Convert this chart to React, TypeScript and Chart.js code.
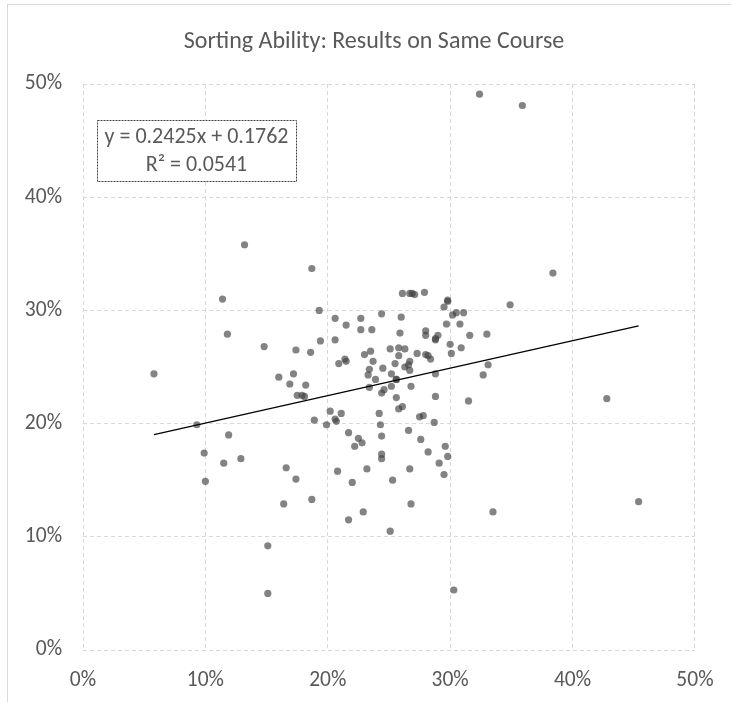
import React, { useEffect, useRef } from 'react';
import { Chart, registerables } from 'chart.js';

Chart.register(...registerables);

const TITLE = 'Sorting Ability: Results on Same Course';
const AXIS_TICKS = [0, 10, 20, 30, 40, 50];

// x = result (%), y = result on same course (%)
const POINT_X = [
  5.8, 9.3, 9.9, 10.0, 11.4, 11.8, 11.9, 11.5, 12.9, 13.2,
  14.8, 15.1, 15.1, 16.0, 16.4, 16.6, 16.9, 17.2, 17.4, 17.4,
  17.5, 17.9, 18.1, 18.2, 18.6, 18.7, 18.7, 18.9, 19.3, 19.4,
  19.9, 20.2, 20.6, 20.6, 20.6, 20.7, 20.8, 20.9, 21.1, 21.4,
  21.5, 21.5, 21.7, 21.7, 22.0, 22.2, 22.5, 22.8, 22.7, 22.7,
  22.9, 23.0, 23.2, 23.3, 23.4, 23.4, 23.5, 23.6, 23.7, 23.9,
  24.2, 24.3, 24.4, 24.4, 24.4, 24.4, 24.4, 24.5, 24.6, 25.1,
  25.1, 25.2, 25.2, 25.3, 25.5, 25.6, 25.6, 25.8, 25.8, 25.8,
  25.9, 26.0, 26.1, 26.1, 26.3, 26.3, 26.7, 26.9, 27.1, 26.7,
  26.6, 26.7, 26.6, 26.7, 26.8, 26.8, 27.3, 27.5, 27.8, 27.6,
  27.9, 28.0, 28.0, 28.0, 28.2, 28.4, 28.2, 28.7, 28.8, 28.8,
  29.0, 28.8, 28.8, 29.1, 29.5, 29.5, 29.6, 29.7, 29.8, 29.8,
  29.8, 30.0, 30.1, 30.2, 30.5, 31.1, 30.3, 30.8, 30.9, 31.5,
  31.6, 32.4, 32.7, 33.0, 33.1, 33.5, 34.9, 35.9, 38.4, 42.8,
  45.4, 25.6,
];
const POINT_Y = [
  24.4, 19.9, 17.4, 14.9, 31.0, 27.9, 19.0, 16.5, 16.9, 35.8,
  26.8, 9.2, 5.0, 24.1, 12.9, 16.1, 23.5, 24.4, 15.1, 26.5,
  22.5, 22.5, 22.4, 23.4, 26.3, 33.7, 13.3, 20.3, 30.0, 27.3,
  19.9, 21.1, 29.3, 27.4, 20.4, 20.2, 15.8, 25.3, 20.9, 25.7,
  25.5, 28.7, 19.2, 11.5, 14.8, 18.0, 18.7, 18.3, 29.3, 28.3,
  12.2, 26.1, 16.0, 24.3, 24.8, 23.2, 26.4, 28.3, 25.5, 23.9,
  20.9, 19.9, 29.7, 22.7, 18.9, 17.3, 16.9, 24.9, 23.0, 26.6,
  10.5, 24.4, 23.3, 15.0, 25.3, 23.9, 22.3, 26.7, 26.0, 21.3,
  28.0, 29.4, 21.5, 31.5, 26.6, 25.0, 31.5, 31.5, 31.4, 25.5,
  25.2, 24.7, 19.4, 16.0, 23.3, 12.9, 26.2, 20.6, 20.7, 18.6,
  31.6, 28.2, 27.8, 26.1, 26.0, 25.7, 17.5, 20.1, 27.5, 27.4,
  27.8, 24.4, 22.4, 16.5, 30.3, 15.5, 18.0, 28.8, 30.8, 30.9,
  17.1, 27.0, 26.2, 29.6, 29.8, 29.8, 5.3, 28.8, 26.7, 22.0,
  27.8, 49.1, 24.3, 27.9, 25.2, 12.2, 30.5, 48.1, 33.3, 22.2,
  13.1, 23.9,
];

const TREND_SLOPE = 0.2425;
const TREND_INTERCEPT = 0.1762;
const R_SQUARED = 0.0541;

const FONT = 'Carlito, "Liberation Sans Narrow", "DejaVu Sans Condensed", "Open Sans", sans-serif';
const TEXT_COLOR = '#595959';
const GRID_COLOR = '#d9d9d9';

const titlePlugin = {
  id: 'chartTitle',
  afterDraw(chart: any) {
    const { ctx } = chart;
    ctx.save();
    ctx.fillStyle = TEXT_COLOR;
    ctx.font = `24px ${FONT}`;
    ctx.textAlign = 'center';
    ctx.textBaseline = 'middle';
    ctx.fillText(TITLE, 374, 42);
    ctx.restore();
  },
};

const eqPlugin = {
  id: 'eqBox',
  afterDatasetsDraw(chart: any) {
    const { ctx, chartArea } = chart;
    const x0 = chartArea.left + 14;
    const y0 = chartArea.top + 36;
    const w = 199;
    const h = 61;
    ctx.save();
    ctx.fillStyle = '#ffffff';
    ctx.fillRect(x0, y0, w, h);
    ctx.setLineDash([2, 1]);
    ctx.strokeStyle = '#404040';
    ctx.lineWidth = 1;
    ctx.strokeRect(x0 + 0.5, y0 + 0.5, w, h);
    ctx.setLineDash([]);
    ctx.fillStyle = TEXT_COLOR;
    ctx.font = `22px ${FONT}`;
    ctx.textAlign = 'center';
    ctx.textBaseline = 'middle';
    const line1 = `y = ${TREND_SLOPE.toFixed(4)}x + ${TREND_INTERCEPT.toFixed(4)}`;
    const line2 = `R\u00B2 = ${R_SQUARED.toFixed(4)}`;
    ctx.fillText(line1, x0 + w / 2, y0 + 17);
    ctx.fillText(line2, x0 + w / 2, y0 + 45);
    ctx.restore();
  },
};

export default function App() {
  const canvasRef = useRef<HTMLCanvasElement | null>(null);

  useEffect(() => {
    if (!canvasRef.current) return;
    const points = POINT_X.map((x, i) => ({ x, y: POINT_Y[i] }));
    const minX = Math.min(...POINT_X);
    const maxX = Math.max(...POINT_X);
    const trend = [minX, maxX].map((x) => ({ x, y: (TREND_SLOPE * x / 100 + TREND_INTERCEPT) * 100 }));

    const chart = new Chart(canvasRef.current, {
      type: 'scatter',
      data: {
        datasets: [
          {
            type: 'line',
            label: 'Trend',
            data: trend,
            borderColor: '#000000',
            borderWidth: 1.3,
            pointRadius: 0,
            fill: false,
            order: 0,
          } as any,
          {
            label: 'Results',
            data: points,
            pointRadius: 3.6,
            pointBorderWidth: 0,
            pointBackgroundColor: 'rgba(64,64,64,0.65)',
            backgroundColor: 'rgba(64,64,64,0.65)',
            borderColor: 'rgba(0,0,0,0)',
            order: 1,
          },
        ],
      },
      options: {
        responsive: false,
        animation: false,
        layout: { padding: { left: 0, right: 36, top: 84, bottom: 12 } },
        plugins: {
          legend: { display: false },
          tooltip: { enabled: false },
          title: { display: false },
        },
        scales: {
          x: {
            type: 'linear',
            min: 0,
            max: 50,
            afterBuildTicks: (s: any) => { s.ticks = AXIS_TICKS.map((v) => ({ value: v })); },
            afterFit: (s: any) => { s.height = 40; },
            ticks: {
              color: TEXT_COLOR,
              font: { family: FONT, size: 21.5 },
              padding: 17.5,
              callback: (v: any) => `${v}%`,
            },
            grid: { color: GRID_COLOR, drawTicks: false, lineWidth: 1 },
            border: { display: false, dash: [4, 3] },
          },
          y: {
            type: 'linear',
            min: 0,
            max: 50,
            afterBuildTicks: (s: any) => { s.ticks = AXIS_TICKS.map((v) => ({ value: v })); },
            afterFit: (s: any) => { s.width = 83; },
            ticks: {
              color: TEXT_COLOR,
              font: { family: FONT, size: 21.5 },
              padding: 21,
              callback: (v: any) => `${v}%`,
            },
            grid: { color: GRID_COLOR, drawTicks: false, lineWidth: 1 },
            border: { display: false, dash: [4, 3] },
          },
        },
      },
      plugins: [eqPlugin, titlePlugin],
    });
    return () => chart.destroy();
  }, []);

  return (
    <div style={{ position: 'fixed', left: 0, top: 0, width: 731, height: 702, overflow: 'hidden', background: '#ffffff' }}>
      <div style={{ position: 'absolute', left: 7, top: 4, width: 800, height: 800, border: '1px solid #d9d9d9' }} />
      <canvas ref={canvasRef} width={731} height={702} style={{ position: 'absolute', left: 0, top: 0, width: 731, height: 702 }} />
    </div>
  );
}
